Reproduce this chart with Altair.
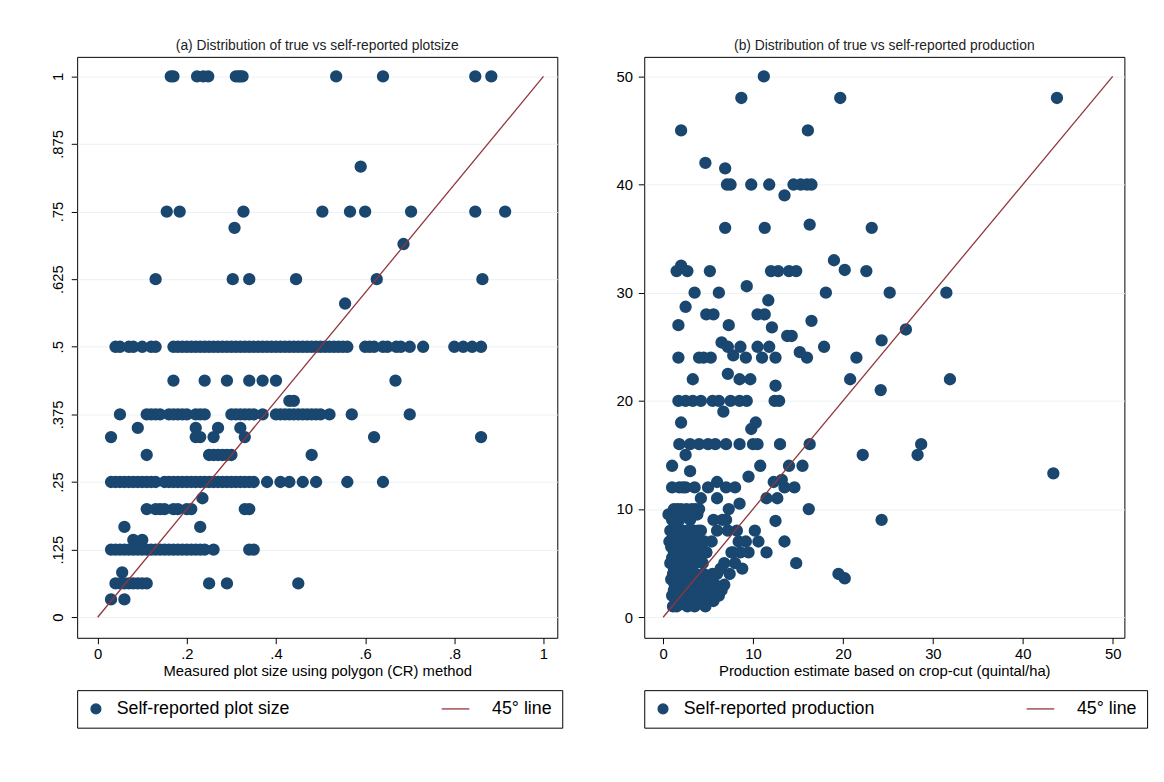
import pandas as pd
import altair as alt

# ---- panel (a): self-reported vs measured plot size ----
a_x_100 = [.164, .170, .223, .237, .248, .31, .316, .32, .325, .535, .64, .847, .883]
a_x_083 = [.59]
a_x_075 = [.155, .184, .327, .504, .566, .6, .703, .847, .914]
a_x_072 = [.307]
a_x_069 = [.686]
a_x_0625 = [.13, .303, .34, .445, .626, .863]
a_x_058 = [.555]
a_x_050 = [.04, .05, .07, .08, .1, .12, .13, .17, .18, .19, .2, .21, .22, .23, .24, .25, .26,
           .27, .28, .29, .3, .31, .32, .33, .34, .35, .36, .37, .38, .39, .4, .41, .42, .43,
           .44, .45, .46, .47, .48, .49, .5, .51, .52, .53, .54, .55, .56, .6, .61, .62, .64,
           .65, .67, .68, .7, .73, .8, .82, .84, .86]
a_x_044 = [.17, .24, .29, .34, .37, .4, .668]
a_x_040 = [.43, .44]
a_x_0375 = [.05, .11, .12, .13, .14, .16, .17, .18, .19, .2, .22, .23, .24, .3, .31, .32, .33,
            .34, .35, .37, .4, .41, .42, .43, .44, .45, .46, .47, .48, .49, .5, .52, .57, .7]
a_x_035 = [.09, .22, .27, .32]
a_x_033 = [.03, .22, .23, .26, .33, .62, .86]
a_x_030 = [.11, .25, .26, .27, .28, .29, .3, .48]
a_x_025 = [.03, .04, .05, .06, .07, .08, .09, .1, .11, .12, .13, .15, .16, .17, .18, .19, .2,
           .21, .22, .23, .24, .25, .26, .27, .28, .29, .3, .31, .32, .33, .34, .35, .38,
           .41, .43, .46, .49, .56, .64]
a_x_022 = [.235]
a_x_020 = [.11, .13, .14, .15, .17, .18, .2, .21, .33, .34]
a_x_017 = [.06, .23]
a_x_014 = [.08, .1]
a_x_0125 = [.03, .04, .05, .06, .07, .08, .09, .1, .11, .12, .13, .14, .15, .16, .17, .18,
            .19, .2, .21, .22, .23, .24, .26, .34, .35]
a_x_008 = [.055]
a_x_006 = [.04, .05, .06, .07, .08, .09, .1, .11, .25, .29, .45]
a_x_003 = [.03, .06]

a_levels = [(1, a_x_100), (.833, a_x_083), (.75, a_x_075), (.72, a_x_072), (.69, a_x_069),
            (.625, a_x_0625), (.58, a_x_058), (.5, a_x_050), (.4375, a_x_044), (.4, a_x_040),
            (.375, a_x_0375), (.35, a_x_035), (.333, a_x_033), (.3, a_x_030), (.25, a_x_025),
            (.22, a_x_022), (.2, a_x_020), (.167, a_x_017), (.143, a_x_014), (.125, a_x_0125),
            (.083, a_x_008), (.0625, a_x_006), (.033, a_x_003)]

# ---- panel (b): self-reported vs crop-cut production ----
b_x = [11.2, 8.7, 19.7, 43.8, 2, 16.1, 4.7, 6.9, 7.1, 7.5, 11.8, 9.8, 14.5, 15.3, 16, 16.5, 13.5,
       6.9, 11.3, 16.3, 23.2, 9.3, 19, 1.5, 2, 2.7, 5.2, 12, 12.8, 14, 14.8, 20.2, 22.6, 3.5, 6.2,
       1.7, 2.5, 4.8, 5.6, 10.5, 11.3, 11.7, 7.3, 16.5, 18.1, 25.2, 31.5, 27, 6.5, 7.2, 8.6, 10.5,
       11.8, 12.1, 13.8, 14.3, 15.2, 17.9, 24.3, 21.5, 20.8, 1.7, 4, 4.5, 5.3, 7.8, 9.2, 11, 12.5,
       16, 3.3, 7.2, 8.5, 9.7, 12.5, 24.2, 1.7, 2.5, 3.3, 4.2, 5.5, 6.2, 7.5, 8.5, 9.3, 12.4, 12.9,
       2, 6.7, 9.8, 10.3, 1.8, 3, 4, 5, 5.8, 7, 8.5, 10, 10.5, 13, 16.3, 22.2, 28.3, 28.7, 43.4,
       19.5, 20.2, 24.3, 16.2, 14.8, 11.5, 12.5, 13.5, 13.5, 14, 15.5, 12.3, 11.5, 31.9, 10.2,
       2.5, 1, 1, 1.8, 2.5, 3.5, 5, 6, 7, 8, 3, 4.2, 6, 8.5, 9.5, 10.8, 13.2, 12.7, 14.6,
       0.6, 0.8, 1.0, 1.2, 1.4, 1.6, 1.8, 2.0, 2.2, 2.4, 2.6, 2.8, 3.0, 3.2, 3.4, 3.6, 3.8, 4.0,
       0.7, 0.9, 1.1, 1.3, 1.5, 1.7, 1.9, 2.1, 2.3, 2.5, 2.7, 2.9, 3.1, 3.3, 3.5, 3.7, 3.9, 4.3,
       0.8, 1.0, 1.2, 1.4, 1.6, 1.8, 2.0, 2.2, 2.4, 2.6, 2.8, 3.0, 3.2, 3.4, 3.6, 4.0, 4.4, 4.8,
       0.9, 1.1, 1.3, 1.5, 1.7, 1.9, 2.1, 2.3, 2.5, 2.7, 2.9, 3.1, 3.3, 3.5, 3.9, 4.5, 5.0, 5.5,
       1.0, 1.2, 1.4, 1.6, 1.8, 2.0, 2.2, 2.4, 2.6, 2.8, 3.0, 3.4, 3.8, 4.2, 4.6, 5.2, 5.8, 6.5,
       1.1, 1.5, 1.9, 2.3, 2.7, 3.1, 3.5, 3.9, 4.3, 4.7, 5.1, 5.6, 6.2, 6.8, 7.4, 8.0, 8.6, 9.2,
       1.3, 1.8, 2.4, 3.0, 3.6, 4.2, 4.8, 5.4, 6.0, 6.6, 7.2, 7.8, 8.4, 4.4, 5.3, 6.1, 7.0, 9.5,
       1.2, 2.0, 2.8, 3.6, 4.4, 5.2, 6.0, 6.8, 7.6, 8.2, 2.2, 3.2, 4.6, 5.6, 6.4, 7.3, 8.8, 10.6]
b_y = [50, 48, 48, 48, 45, 45, 42, 41.5, 40, 40, 40, 40, 40, 40, 40, 40, 39,
       36, 36, 36.3, 36, 30.6, 33, 32, 32.5, 32, 32, 32, 32, 32, 32, 32.1, 32, 30, 30,
       27, 28.7, 28, 28, 28, 28, 29.3, 27, 27.4, 30, 30, 30, 26.6, 25.4, 25, 25, 25,
       25, 26.8, 26, 26, 24.5, 25, 25.6, 24, 22, 24, 24, 24, 24, 24.2, 24, 24, 24,
       24, 22, 22.5, 22, 22, 21.4, 21, 20, 20, 20, 20, 20, 20, 20, 20, 20, 20, 20,
       18, 19, 17.4, 18, 16, 16, 16, 16, 16, 16, 16, 16, 16, 16, 16, 15, 15, 16, 13.3,
       4, 3.6, 9, 10, 5, 6, 8.9, 7, 12, 14, 14, 12.5, 11, 22, 8,
       15, 14, 12, 12, 12, 12, 12, 12.5, 12, 12, 13.5, 11, 11, 10.5, 13, 14, 12.7, 11, 12,
       9.5, 8, 9, 10, 8.5, 10, 9, 10, 8, 9.5, 10, 8, 9, 10, 8, 10, 9.5, 10,
       7, 6.5, 7.5, 6, 7, 6.5, 7.5, 7, 6, 7.5, 6.5, 7, 8, 6, 7, 6.5, 8, 7,
       5, 5.5, 4.5, 5, 6, 5.5, 4.5, 5, 6, 5.5, 4.5, 5, 6, 5.5, 5, 6, 5, 6,
       3.5, 4, 3, 4, 3.5, 4, 3, 4, 3.5, 3, 4, 3.5, 3, 4, 3.5, 4, 3.5, 4,
       2, 2.5, 1.5, 2.5, 2, 2.5, 1.5, 2, 2.5, 2, 3, 2, 2.5, 2, 3, 2.5, 3, 2.5,
       1, 1, 1.2, 1.5, 1, 1.5, 1, 2, 1.5, 1, 2, 1.5, 2, 3, 4, 5, 6, 7,
       3, 8, 5, 6, 4, 8, 6, 7, 8, 9, 8, 6, 7, 2, 3, 2.5, 9, 6,
       6, 5, 4.5, 2.5, 1.5, 3.5, 4, 5, 6, 8, 12, 7.5, 7, 9, 4.5, 10, 4.5, 7]

PT = "#1a476f"
LN = "#90353b"
FONT = "Liberation Sans"


def panel(df, line_df, series, xdom, ydom, xticks, yticks, xtitle, title, ylabel_angle, ylab):
    dom = [series, "45° line"]
    leg = alt.Legend(title=None, orient="bottom", direction="horizontal")
    pts = alt.Chart(df).mark_point(filled=True, opacity=1, size=110).encode(
        x=alt.X("x:Q", scale=alt.Scale(domain=xdom, nice=False, zero=False),
                axis=alt.Axis(values=xticks, title=xtitle, grid=False, labelFontSize=15,
                              titleFontSize=15, titlePadding=2, tickSize=6, labelPadding=3)),
        y=alt.Y("y:Q", scale=alt.Scale(domain=ydom, nice=False, zero=False),
                axis=alt.Axis(values=yticks, title=None, grid=True, gridColor="#eaf2f3",
                              labelFontSize=15, labelAngle=ylabel_angle, tickSize=6,
                              labelPadding=6, labelExpr=ylab)),
        fill=alt.Fill("series:N", scale=alt.Scale(domain=dom, range=[PT, LN]), legend=leg),
        stroke=alt.Stroke("series:N", scale=alt.Scale(domain=dom, range=[PT, LN]), legend=leg),
        shape=alt.Shape("series:N", scale=alt.Scale(domain=dom, range=["circle", "M-6,0H-0.4"]),
                        legend=leg),
    )
    line = alt.Chart(line_df).mark_line(strokeWidth=1.3).encode(
        x="x:Q", y="y:Q",
        stroke=alt.Stroke("series:N", scale=alt.Scale(domain=dom, range=[PT, LN]), legend=leg),
    )
    return alt.layer(pts, line).properties(
        width=486, height=588,
        title=alt.TitleParams(title, fontSize=14, fontWeight="normal", color="#222222", font=FONT),
    )


ax, ay = [], []
for lvl, xs in a_levels:
    ax += xs
    ay += [lvl] * len(xs)
df_a = pd.DataFrame({"x": ax, "y": ay, "series": "Self-reported plot size"})
line_a = pd.DataFrame({"x": [0, 1], "y": [0, 1], "series": "45° line"})
df_b = pd.DataFrame({"x": b_x, "y": b_y, "series": "Self-reported production"})
line_b = pd.DataFrame({"x": [0, 50], "y": [0, 50], "series": "45° line"})

a_ticks = [0, .125, .25, .375, .5, .625, .75, .875, 1]
a_lab = "datum.value == 0 ? '0' : datum.value == 1 ? '1' : replace(format(datum.value, '.3~f'), '0.', '.')"

chart_a = panel(df_a, line_a, "Self-reported plot size", [-0.046, 1.031], [-0.038, 1.036],
                [0, .2, .4, .6, .8, 1], a_ticks,
                "Measured plot size using polygon (CR) method",
                "(a) Distribution of true vs self-reported plotsize", 270, a_lab)
chart_b = panel(df_b, line_b, "Self-reported production", [-2.1, 51.3], [-1.9, 51.8],
                [0, 10, 20, 30, 40, 50], [0, 10, 20, 30, 40, 50],
                "Production estimate based on crop-cut (quintal/ha)",
                "(b) Distribution of true vs self-reported production", 0, "datum.label")

chart = alt.hconcat(chart_a, chart_b, spacing=52).resolve_scale(
    fill="independent", stroke="independent", shape="independent"
).configure(
    font=FONT, background="white",
    padding={"left": 42, "top": 26, "right": 8, "bottom": 8},
).configure_view(
    stroke="black", strokeWidth=1
).configure_axis(
    domain=False, labelColor="black", titleColor="black", tickColor="black",
    labelFont=FONT, titleFont=FONT, titleFontWeight="normal",
).configure_axisX(labelExpr="replace(format(datum.value, '~g'), '0.', '.')").configure_legend(
    strokeColor="black", padding=10, labelFontSize=18, labelFont=FONT, symbolStrokeWidth=1.3,
    columnPadding=150, labelLimit=400, offset=12, labelOffset=12,
)

chart.save("out.html", embed_options={"renderer": "svg", "actions": False})
